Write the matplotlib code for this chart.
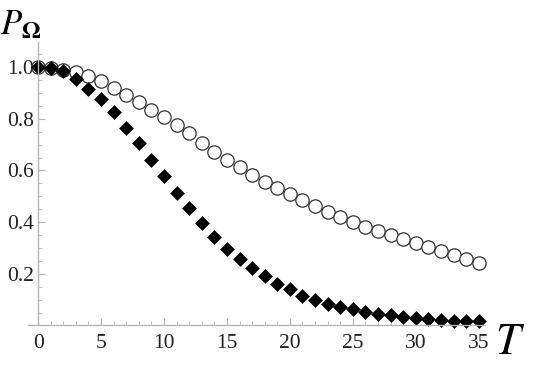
import matplotlib.pyplot as plt
import numpy as np

T = list(range(36))
P_CIRCLE = [1.0, 0.998, 0.99, 0.98, 0.965, 0.945, 0.92, 0.893, 0.865, 0.835,
            0.805, 0.775, 0.745, 0.705, 0.672, 0.642, 0.613, 0.584, 0.557, 0.532,
            0.509, 0.486, 0.463, 0.441, 0.421, 0.401, 0.382, 0.366, 0.35, 0.334,
            0.318, 0.302, 0.287, 0.273, 0.257, 0.242]
P_DIAMOND = [1.0, 0.995, 0.985, 0.955, 0.915, 0.876, 0.826, 0.765, 0.706, 0.64,
             0.58, 0.513, 0.455, 0.398, 0.341, 0.297, 0.258, 0.222, 0.19, 0.161,
             0.14, 0.116, 0.1, 0.085, 0.073, 0.062, 0.052, 0.045, 0.039, 0.033,
             0.028, 0.024, 0.021, 0.019, 0.018, 0.016]
X_TICKS = [0, 5, 10, 15, 20, 25, 30, 35]
Y_TICKS = [0.2, 0.4, 0.6, 0.8, 1.0]

plt.rcParams['font.family'] = 'serif'
plt.rcParams['font.serif'] = ['Liberation Serif', 'DejaVu Serif']
plt.rcParams['mathtext.fontset'] = 'stix'
AXIS_GRAY = '#b5b5b5'
TEXT = '#222222'

fig = plt.figure(figsize=(5.44, 3.67), dpi=100)
ax = fig.add_axes([0.0515, 0.1131, 0.84, 0.7725])

ax.plot(T, P_CIRCLE, 'o', ms=9.6, mfc='white', mec='#333333', mew=0.9, clip_on=False)
ax.plot(T, P_DIAMOND, 'D', ms=7.0, mfc='black', mec='black', mew=0.4, clip_on=False)

ax.set_xlim(-0.8, 35.5)
ax.set_ylim(0, 1.097)

for s in ['top', 'right']:
    ax.spines[s].set_visible(False)
ax.spines['left'].set_position(('data', 0))
ax.spines['bottom'].set_position(('data', 0))
for s in ['left', 'bottom']:
    ax.spines[s].set_color(AXIS_GRAY)
    ax.spines[s].set_linewidth(1.0)

ax.set_xticks(X_TICKS)
ax.set_xticklabels([str(t) for t in X_TICKS], fontfamily='Liberation Serif')
ax.set_xticks(np.arange(0, 36, 1), minor=True)
ax.set_yticks(Y_TICKS)
ax.set_yticklabels(['%.1f' % v for v in Y_TICKS], fontfamily='Liberation Serif')
ax.set_yticks(np.arange(0.05, 1.09, 0.05), minor=True)

ax.tick_params(axis='both', which='major', direction='in', length=5, width=0.8,
               color=AXIS_GRAY, labelcolor=TEXT, labelsize=15.5)
ax.tick_params(axis='both', which='minor', direction='in', length=3, width=0.6,
               color=AXIS_GRAY)
ax.tick_params(axis='x', which='major', pad=6)
ax.tick_params(axis='y', which='major', pad=3)

fig.text(0.0, 0.975, r'$P_{\mathbf{\Omega}}$', fontsize=25, color='black',
         ha='left', va='top')
fig.text(0.91, 0.01, r'$T$', fontsize=32, color='black', ha='left', va='bottom')

fig.savefig('out.png', dpi=100)
